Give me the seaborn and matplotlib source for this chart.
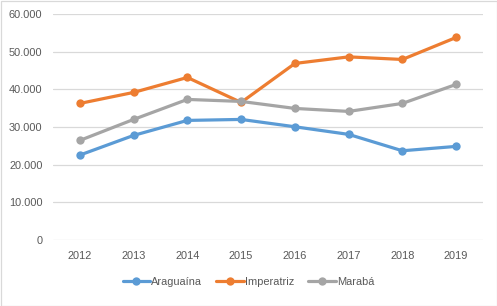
import matplotlib
matplotlib.use("Agg")
import matplotlib.pyplot as plt
from matplotlib.ticker import FuncFormatter, MultipleLocator
from matplotlib.lines import Line2D
import seaborn as sns
import pandas as pd

years = ["2012", "2013", "2014", "2015", "2016", "2017", "2018", "2019"]
araguaina = [22550, 27770, 31750, 32010, 30060, 28040, 23690, 24850]
imperatriz = [36260, 39180, 43150, 36520, 46870, 48620, 47930, 53770]
maraba = [26440, 32010, 37320, 36790, 34930, 34140, 36260, 41300]
series_names = ["Araguaína", "Imperatriz", "Marabá"]
colors = ["#5B9BD5", "#ED7D31", "#A5A5A5"]

rows = []
for name, vals in zip(series_names, [araguaina, imperatriz, maraba]):
    for y, v in zip(years, vals):
        rows.append({"Ano": y, "Valor": v, "Cidade": name})
df = pd.DataFrame(rows)

sns.set_theme(style="white")
plt.rcParams['font.family'] = ['Liberation Sans', 'DejaVu Sans']

fs = 7.9
fig = plt.figure(figsize=(4.97, 3.06), dpi=100)
ax = fig.add_axes([53/497, 1-240/306, (483-53)/497, (240-14)/306])

sns.lineplot(data=df, x="Ano", y="Valor", hue="Cidade", palette=colors,
             marker="o", markersize=6, markeredgewidth=0, linewidth=2.3,
             ax=ax, legend=False, sort=False)

ax.set_xlim(-0.5, 7.5)
ax.set_ylim(0, 60000)
ax.yaxis.set_major_locator(MultipleLocator(10000))
ax.yaxis.set_major_formatter(FuncFormatter(lambda v, p: f"{int(v):,}".replace(",", ".")))
ax.grid(axis="y", color="#D9D9D9", linewidth=0.9)
ax.set_axisbelow(True)
for s in ax.spines.values():
    s.set_visible(False)
ax.set_xlabel("")
ax.set_ylabel("")
ax.tick_params(axis="both", length=0, labelsize=fs, colors="#595959")
ax.tick_params(axis="y", pad=7.5)
ax.tick_params(axis="x", pad=8)

handles = [Line2D([0], [0], color=c, linewidth=2.3, marker="o", markersize=6, markeredgewidth=0)
           for c in colors]
fig.legend(handles, series_names, loc="center", bbox_to_anchor=(0.5, 1-282/306), ncol=3,
           frameon=False, fontsize=fs, labelcolor="#595959", handlelength=2.5,
           handletextpad=0.1, columnspacing=1.3)

border = plt.Rectangle((0.5/497, 0.5/306), 1-1/497, 1-1/306, transform=fig.transFigure,
                       fill=False, edgecolor="#D9D9D9", linewidth=0.9)
fig.patches.append(border)

fig.savefig("out.png", dpi=100, facecolor="white")
